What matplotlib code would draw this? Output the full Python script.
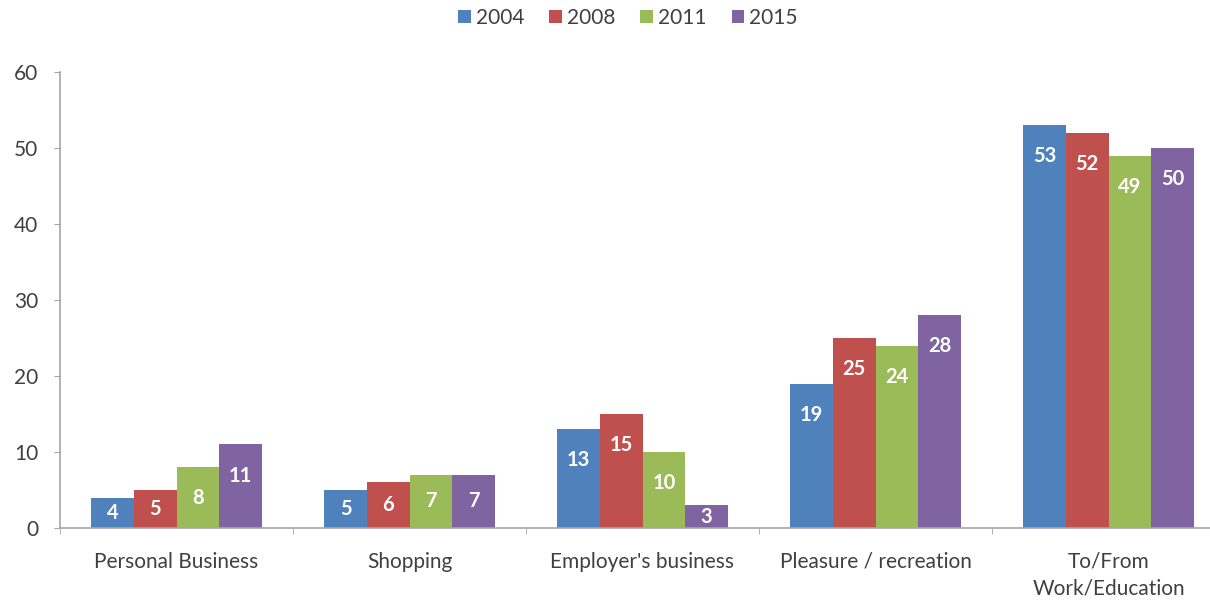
import matplotlib

matplotlib.use("Agg")
import matplotlib.pyplot as plt
import numpy as np
from matplotlib.patches import Patch

plt.rcParams["font.family"] = ["Lato", "DejaVu Sans"]

categories = ["Personal Business", "Shopping", "Employer's business",
              "Pleasure / recreation", "To/From\nWork/Education"]
years = ["2004", "2008", "2011", "2015"]
share_2004 = [4, 5, 13, 19, 53]
share_2008 = [5, 6, 15, 25, 52]
share_2011 = [8, 7, 10, 24, 49]
share_2015 = [11, 7, 3, 28, 50]
yticks = [0, 10, 20, 30, 40, 50, 60]

series = [share_2004, share_2008, share_2011, share_2015]
colors = ["#4F81BD", "#C0504D", "#9BBB59", "#8064A2"]
axis_grey = "#A6A6A6"
text_grey = "#404040"

fig = plt.figure(figsize=(12.1, 6.06), dpi=100)
ax = fig.add_axes([60 / 1210, 78 / 606, 1150 / 1210, 456 / 606])

x = np.arange(len(categories))
width = 0.183
for k, (vals, color) in enumerate(zip(series, colors)):
    pos = x + (k - 1.5) * width
    ax.bar(pos, vals, width, color=color, edgecolor="none")
    for px, v in zip(pos, vals):
        ly = max(v - 4.1, v / 2)
        ax.text(px, ly, f"{v}", ha="center", va="center", color="white",
                fontsize=14.5, fontweight="bold")

ax.set_yticks(yticks)
ax.set_xticks(x)
ax.set_xticklabels(categories, linespacing=1.45)
ax.set_xticks(np.arange(len(categories) + 1) - 0.5, minor=True)
# tick setters widen the view, so fix limits afterwards
ax.set_ylim(0, 60)
ax.set_xlim(-0.5, 4.5 - 15 / 233)

ax.tick_params(axis="x", which="major", length=0, pad=17, labelsize=15,
               labelcolor=text_grey)
ax.tick_params(axis="x", which="minor", length=4.5, color=axis_grey)
ax.tick_params(axis="y", length=4.5, color=axis_grey, labelsize=15,
               labelcolor=text_grey, pad=11)

for side in ("top", "right"):
    ax.spines[side].set_visible(False)
for side in ("left", "bottom"):
    ax.spines[side].set_color(axis_grey)
    ax.spines[side].set_linewidth(1.2)

handles = [Patch(facecolor=c, edgecolor="none") for c in colors]
fig.legend(handles, years, loc="center", bbox_to_anchor=(628 / 1210, 1 - 18 / 606),
           ncol=4, frameon=False, fontsize=15, handlelength=0.6, handleheight=0.6,
           handletextpad=0.25, columnspacing=1.2, labelcolor=text_grey)

fig.savefig("out.png", dpi=100)
